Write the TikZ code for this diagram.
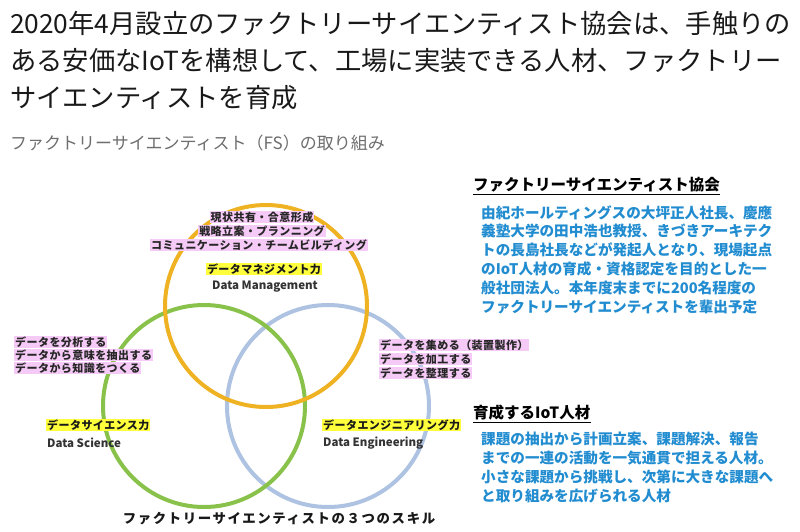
\documentclass[tikz,border=0pt]{standalone}
\usepackage{fontspec}
\setmainfont{Noto Sans CJK JP}
\newfontfamily\jpsp[LetterSpace=4]{Noto Sans CJK JP}
\newfontfamily\jpcap[LetterSpace=12]{Noto Sans CJK JP}
\definecolor{orangec}{RGB}{238,178,34}
\definecolor{greenc}{RGB}{137,194,74}
\definecolor{bluec}{RGB}{174,194,226}
\definecolor{pinkhl}{RGB}{246,202,246}
\definecolor{yellowhl}{RGB}{255,255,60}
\definecolor{bluetext}{RGB}{33,140,208}
\definecolor{graytext}{RGB}{110,110,110}
\begin{document}
\begin{tikzpicture}[x=1pt,y=-1pt,
  titleline/.style={anchor=west, inner sep=0, font=\fontsize{26.3}{30}\selectfont, text=black!90},
  subtitle/.style={anchor=west, inner sep=0, font=\fontsize{17}{20}\selectfont, text=graytext},
  heading/.style={anchor=west, inner sep=0, font=\fontsize{15.5}{18}\selectfont\bfseries, text=black},
  bodytext/.style={anchor=north west, inner sep=0, align=left, font=\fontsize{14.6}{18.8}\selectfont\bfseries, text=bluetext},
  ring/.style={circle, draw=#1, line width=4, minimum size=202, inner sep=0},
  pinkline/.style={fill=pinkhl, inner xsep=1, inner ysep=0.6, font=\jpsp\fontsize{11}{12}\selectfont\bfseries, text=black!85},
  yellowline/.style={fill=yellowhl, inner xsep=1, inner ysep=0.6, font=\jpsp\fontsize{11}{12}\selectfont\bfseries, text=black!90},
  engline/.style={inner sep=0, font=\fontsize{11.5}{13}\selectfont\bfseries, text=black!80},
  caption/.style={inner sep=0, font=\jpcap\fontsize{13.4}{16}\selectfont\bfseries, text=black!90}]
\useasboundingbox (0,0) rectangle (800,531);
\fill[white] (0,0) rectangle (800,531);

% title
\node[titleline] (t1) at (10,23) {2020年4月設立のファクトリーサイエンティスト協会は、手触りの};
\node[titleline] (t2) at (10,61) {ある安価なIoTを構想して、工場に実装できる人材、ファクトリー};
\node[titleline] (t3) at (10,98) {サイエンティストを育成};
\node[subtitle] (st) at (10,143) {ファクトリーサイエンティスト（FS）の取り組み};

% circles
\node[ring=bluec] (cb) at (328,406) {};
\node[ring=greenc] (cg) at (204,406) {};
\node[ring=orangec] (co) at (266,306) {};

% top pink
\node[pinkline] (p1) at (262,217) {現状共有・合意形成};
\node[pinkline] (p2) at (262,231) {戦略立案・プランニング};
\node[pinkline] (p3) at (259,245) {コミュニケーション・チームビルディング};
\node[yellowline] (y1) at (264,269) {データマネジメント力};
\node[engline] (e1) at (265,287) {Data Management};

% left pink
\node[pinkline, anchor=west] (l1) at (14,342) {データを分析する};
\node[pinkline, anchor=west] (l2) at (14,355) {データから意味を抽出する};
\node[pinkline, anchor=west] (l3) at (14,368) {データから知識をつくる};
\node[yellowline, anchor=west] (y2) at (46,425) {データサイエンス力};
\node[engline, anchor=west] (e2) at (47,443) {Data Science};

% right pink
\node[pinkline, anchor=west] (r1) at (379,345) {データを集める（装置製作）};
\node[pinkline, anchor=west] (r2) at (379,359) {データを加工する};
\node[pinkline, anchor=west] (r3) at (379,373) {データを整理する};
\node[yellowline, anchor=west] (y3) at (322,425) {データエンジニアリング力};
\node[engline, anchor=west] (e3) at (323,443) {Data Engineering};

% caption
\node[caption] (cap) at (279,519) {ファクトリーサイエンティストの３つのスキル};

% right column
\node[heading] (h1) at (473,185) {ファクトリーサイエンティスト協会};
\draw[line width=1.2] ([yshift=-1.5]h1.south west) -- ([yshift=-1.5]h1.south east);
\node[bodytext] (b1) at (481,205) {由紀ホールティングスの大坪正人社長、慶應\\義塾大学の田中浩也教授、きづきアーキテク\\トの長島社長などが発起人となり、現場起点\\のIoT人材の育成・資格認定を目的とした一\\般社団法人。本年度末までに200名程度の\\ファクトリーサイエンティストを輩出予定};

\node[heading] (h2) at (473,413) {育成するIoT人材};
\draw[line width=1.2] ([yshift=-1.5]h2.south west) -- ([yshift=-1.5]h2.south east);
\node[bodytext] (b2) at (481,432) {課題の抽出から計画立案、課題解決、報告\\までの一連の活動を一気通貫で担える人材。\\小さな課題から挑戦し、次第に大きな課題へ\\と取り組みを広げられる人材};
\end{tikzpicture}
\end{document}
